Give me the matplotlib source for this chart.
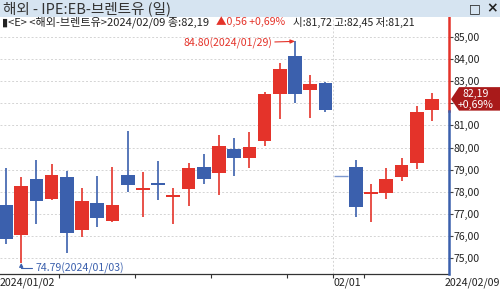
import matplotlib
matplotlib.use("Agg")
import matplotlib.pyplot as plt
from matplotlib.patches import Rectangle, Polygon
from matplotlib.transforms import blended_transform_factory
import datetime as dt

plt.rcParams['font.family'] = ['Noto Sans CJK KR', 'DejaVu Sans']

# ---------------- data ----------------
dates = ["2024-01-02", "2024-01-03", "2024-01-04", "2024-01-05", "2024-01-08",
         "2024-01-09", "2024-01-10", "2024-01-11", "2024-01-12", "2024-01-15",
         "2024-01-16", "2024-01-17", "2024-01-18", "2024-01-19", "2024-01-22",
         "2024-01-23", "2024-01-24", "2024-01-25", "2024-01-26", "2024-01-29",
         "2024-01-30", "2024-01-31", "2024-02-01", "2024-02-02", "2024-02-05",
         "2024-02-06", "2024-02-07", "2024-02-08", "2024-02-09"]
opens  = [77.41, 76.05, 78.57, 77.69, 78.69, 76.28, 77.49, 76.70, 78.75, 78.10,
          78.42, 77.78, 78.12, 79.11, 78.87, 79.93, 79.55, 80.30, 82.41, 84.14,
          82.61, 82.91, 78.70, 79.14, 77.89, 77.94, 78.69, 79.29, 81.72]
highs  = [79.07, 78.66, 79.44, 79.26, 78.96, 78.19, 78.72, 79.11, 80.77, 78.91,
          79.40, 78.16, 79.29, 79.71, 80.56, 80.45, 80.72, 82.53, 83.81, 84.80,
          83.28, 82.95, 78.70, 79.44, 78.36, 79.07, 79.52, 81.88, 82.45]
lows   = [75.65, 74.79, 76.55, 77.62, 75.25, 75.95, 76.40, 76.62, 78.01, 76.85,
          77.63, 76.55, 77.36, 78.36, 77.85, 78.72, 79.09, 80.07, 81.28, 82.03,
          81.33, 81.61, 78.70, 76.85, 76.65, 77.67, 78.51, 79.02, 81.21]
closes = [75.89, 78.25, 77.59, 78.76, 76.12, 77.59, 76.80, 77.41, 78.29, 78.15,
          78.29, 77.88, 79.10, 78.56, 80.06, 79.55, 80.04, 82.43, 83.55, 82.40,
          82.87, 81.71, 78.70, 77.33, 77.99, 78.59, 79.21, 81.63, 82.19]
y_ticks = [75, 76, 77, 78, 79, 80, 81, 82, 83, 84, 85]
title_text = "해외 - IPE:EB-브렌트유 (일)"
info_main = "▮<E> <해외-브렌트유>2024/02/09 종:82,19"
info_change = "▲0,56 +0,69%"
info_ohl = "시:81,72 고:82,45 저:81,21"
last_price_label = "82,19"
last_pct_label = "+0,69%"

RED = "#e4332a"
BLUE = "#3b60ad"
DARK = "#222222"

W, H = 500, 292
fig = plt.figure(figsize=(W / 100, H / 100), dpi=100)
fig.patch.set_facecolor("white")

def fx(x):
    return x / W

def fy(y):
    return 1 - y / H

ax_left, ax_right, ax_top, ax_bot = 0, 449, 17, 274
ax = fig.add_axes([fx(ax_left), fy(ax_bot), (ax_right - ax_left) / W, (ax_bot - ax_top) / H])
ax.set_facecolor("white")

n = len(dates)
xs = list(range(n))
d_objs = [dt.date.fromisoformat(d) for d in dates]

ax.set_xlim(-0.394, 29.12)
ax.set_ylim(74.29, 85.90)
px_per_unit = (ax_bot - ax_top) / (85.90 - 74.29)

# grid
for v in y_ticks:
    ax.axhline(v, color="#d4d4d4", lw=0.7, ls=(0, (2, 2)), zorder=0)

# week / month boundaries
week_b = [i - 0.5 for i in range(1, n) if d_objs[i].weekday() < d_objs[i - 1].weekday()]
month_b = [i - 0.5 for i in range(1, n) if d_objs[i].month != d_objs[i - 1].month]
for m in month_b:
    ax.axvline(m, color="#d4d4d4", lw=0.7, ls=(0, (2, 2)), zorder=0)

# candles
bw = 0.9
min_h = 0.07
for i in xs:
    o, h, l, c = opens[i], highs[i], lows[i], closes[i]
    if c > o:
        col = RED
    elif c < o:
        col = BLUE
    else:
        col = BLUE if (i > 0 and c < closes[i - 1]) else RED
    if h == l:
        ax.hlines(c, i - bw / 2, i + bw / 2, color="#7d98cf", lw=1.0, zorder=3)
        continue
    ax.vlines(i, l, h, color=col, lw=1.2, zorder=2)
    bot = min(o, c)
    ht = max(abs(c - o), min_h)
    if abs(c - o) < min_h:
        bot = (o + c) / 2 - min_h / 2
    ax.add_patch(Rectangle((i - bw / 2, bot), bw, ht, facecolor=col, edgecolor="none", zorder=3))

# spines
for s in ["top", "left", "right"]:
    ax.spines[s].set_visible(False)
ax.spines["bottom"].set_color("#333333")
ax.spines["bottom"].set_linewidth(0.9)

# x ticks
ax.set_xticks(week_b + month_b)
ax.tick_params(axis="x", direction="out", length=3, width=0.8, color="#333333", labelbottom=False)

# y ticks on right (labels hidden behind the last-price marker are left blank)
last = closes[-1]
marker_half = 12 / px_per_unit
ax.yaxis.tick_right()
ax.set_yticks(y_ticks)
ax.set_yticklabels(["" if abs(v - last) < marker_half else f"{v:.2f}".replace(".", ",")
                    for v in y_ticks])
ax.tick_params(axis="y", direction="out", length=3, width=0.8, color="#444444",
               labelsize=7.6, labelcolor=DARK, pad=0.5)

# right axis line: red above marker, blue below
trans_b = blended_transform_factory(ax.transAxes, ax.transData)
split = last - 11.5 / px_per_unit
ax.plot([1, 1], [split, ax.get_ylim()[1]], color=RED, lw=1.8, transform=trans_b, clip_on=False, zorder=5)
ax.plot([1, 1], [ax.get_ylim()[0], split], color=BLUE, lw=1.8, transform=trans_b, clip_on=False, zorder=5)

# date labels
trans_x = blended_transform_factory(ax.transData, ax.transAxes)
lab_y = -9 / (ax_bot - ax_top)
ax.text(0, lab_y, d_objs[0].strftime("%Y/%m/%d"), transform=ax.transAxes, ha="left", va="center",
        fontsize=7.6, color=DARK)
for m in month_b:
    j = int(m + 0.5)
    ax.text(m, lab_y, d_objs[j].strftime("%m/%d"), transform=trans_x, ha="left", va="center",
            fontsize=7.6, color=DARK)
fig.text(1.0, fy(283), d_objs[-1].strftime("%Y/%m/%d"), ha="right", va="center", fontsize=7.6, color=DARK)

# high / low annotations
hi_i = max(xs, key=lambda k: highs[k])
lo_i = min(xs, key=lambda k: lows[k])
ax.annotate(f"{highs[hi_i]:.2f}({d_objs[hi_i].strftime('%Y/%m/%d')})",
            xy=(hi_i, highs[hi_i]), xytext=(-23, -2), textcoords="offset pixels",
            ha="right", va="center", fontsize=7.6, color=RED,
            arrowprops=dict(arrowstyle="-|>,head_length=0.35,head_width=0.15", color=RED, lw=0.8,
                            shrinkA=0, shrinkB=0))
ax.annotate(f"{lows[lo_i]:.2f}({d_objs[lo_i].strftime('%Y/%m/%d')})",
            xy=(lo_i, lows[lo_i]), xytext=(14, -5), textcoords="offset pixels",
            ha="left", va="center", fontsize=7.6, color=BLUE,
            arrowprops=dict(arrowstyle="-|>,head_length=0.3,head_width=0.15", color=BLUE, lw=0.8,
                            shrinkA=0, shrinkB=0,
                            connectionstyle="angle,angleA=180,angleB=90,rad=0"))

# title bar
fig.patches.append(Rectangle((0, fy(16.5)), 1, 16.5 / H, transform=fig.transFigure,
                             facecolor="#d6e4f1", edgecolor="none", zorder=0))
fig.text(fx(3), fy(8.5), title_text, ha="left", va="center", fontsize=10.5, color="#333333")
fig.text(fx(475), fy(8.5), "□", ha="center", va="center", fontsize=9, color="#222222",
         family=["DejaVu Sans"])
fig.text(fx(492), fy(8.5), "×", ha="center", va="center", fontsize=10, color="#222222",
         family=["DejaVu Sans"], fontweight="bold")

# info line
fig.text(fx(2), fy(22), info_main, ha="left", va="center", fontsize=8, color=DARK)
fig.text(fx(216), fy(22), info_change, ha="left", va="center", fontsize=7.6, color=RED)
fig.text(fx(293), fy(22), info_ohl, ha="left", va="center", fontsize=7.6, color=DARK)

# last price marker
fig.canvas.draw()
ydisp = ax.transData.transform((0, last))[1]
xl = ax.transAxes.transform((1, 0))[0] + 2
top_d, bot_d = ydisp + 12, ydisp - 11.5
poly = Polygon([[xl, ydisp], [xl + 8, top_d], [W, top_d], [W, bot_d], [xl + 8, bot_d]],
               closed=True, transform=None, facecolor="#a91a1a", edgecolor="none", zorder=10)
fig.patches.append(poly)
fig.text((xl + 25) / W, (ydisp + 5.5) / H, last_price_label, ha="center", va="center",
         fontsize=7.6, color="white", zorder=11)
fig.text((xl + 25) / W, (ydisp - 5.5) / H, last_pct_label, ha="center", va="center",
         fontsize=7.6, color="white", zorder=11)

fig.savefig("out.png", dpi=100)
